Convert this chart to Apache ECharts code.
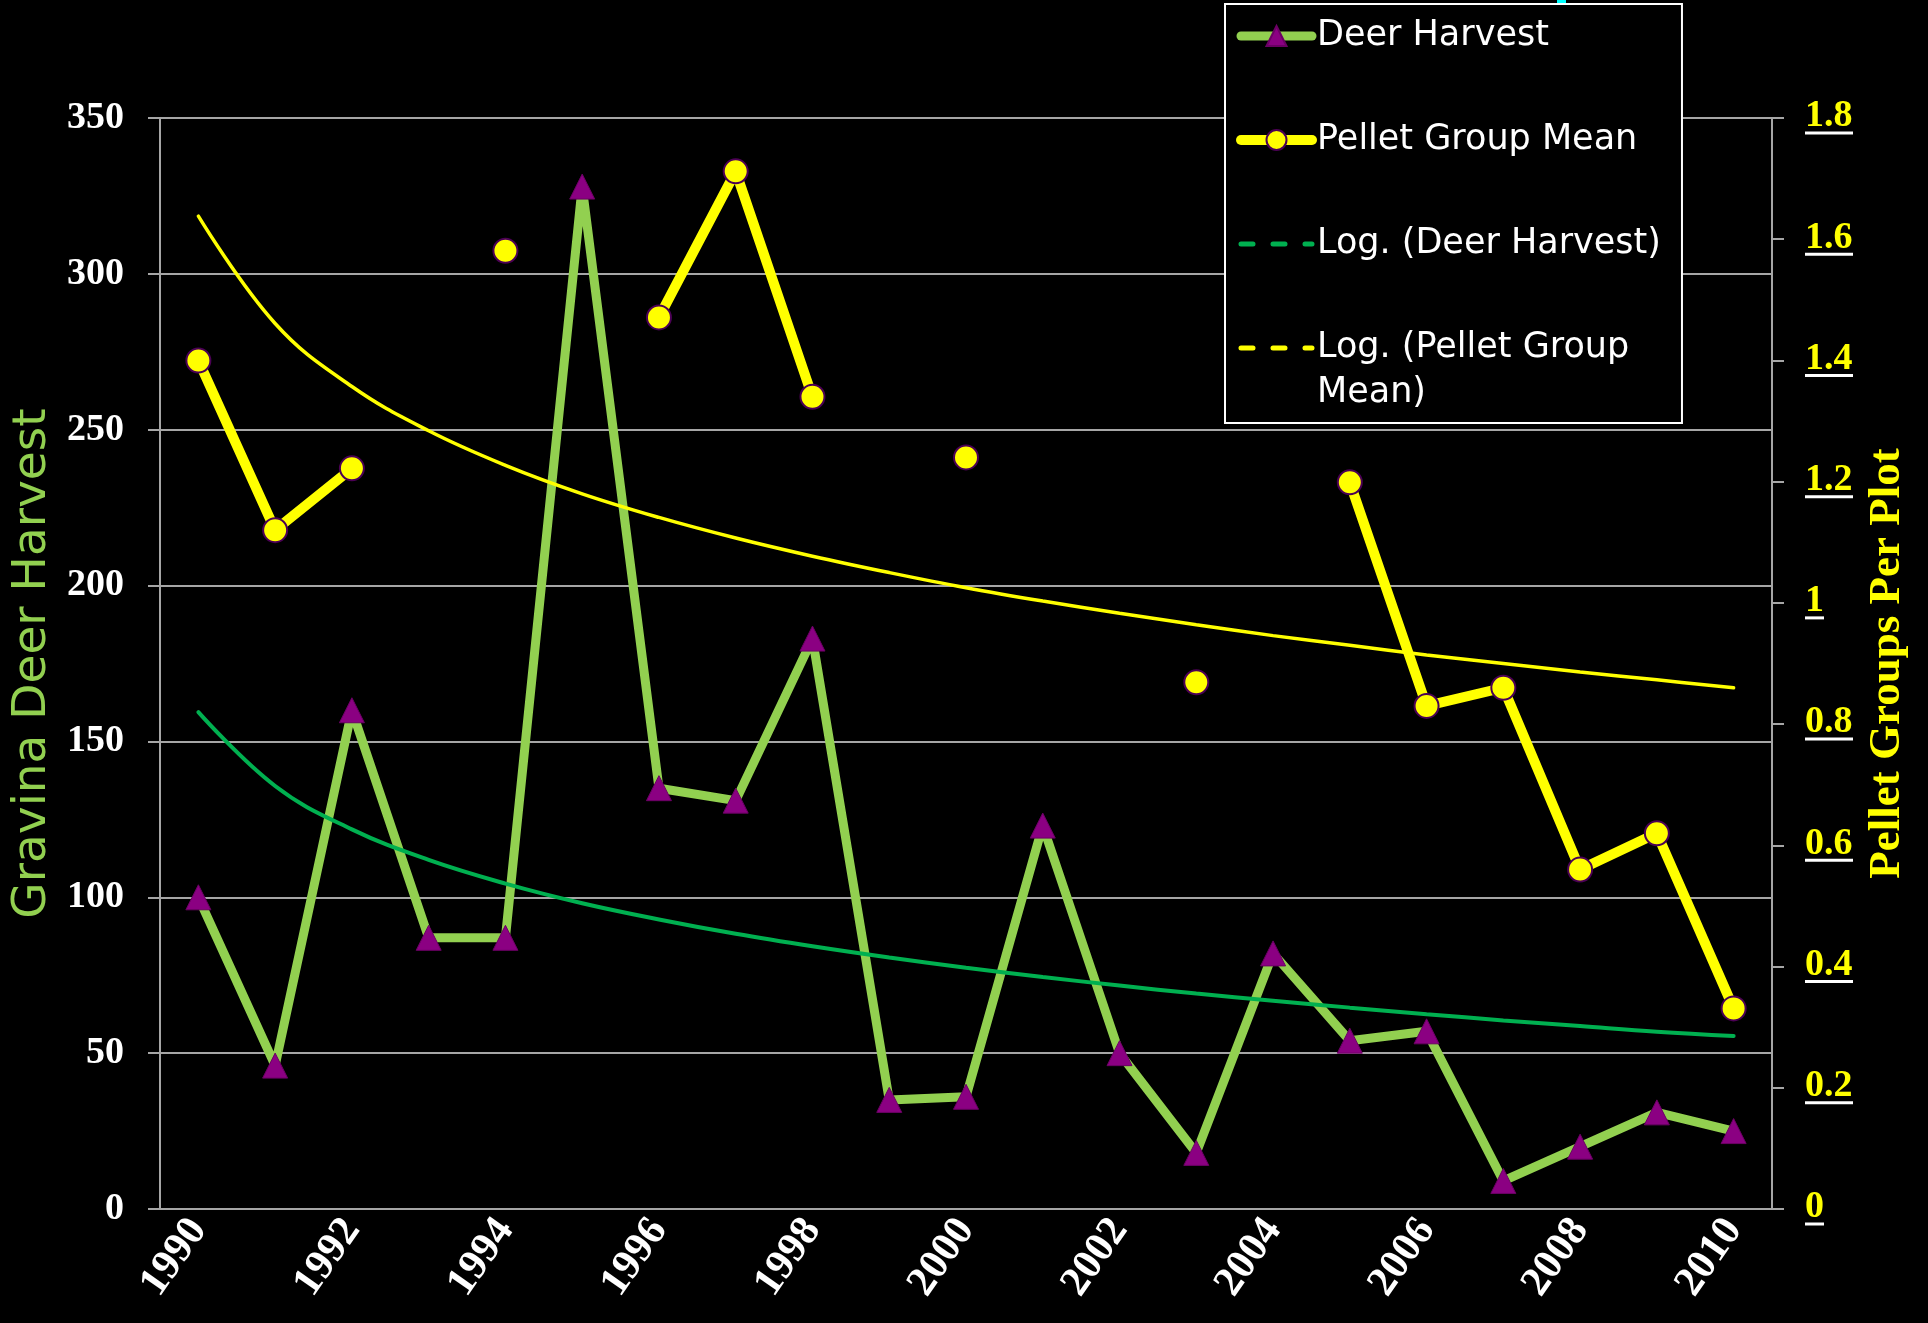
<!DOCTYPE html>
<html>
<head>
<meta charset="utf-8">
<title>Gravina Deer Harvest</title>
<script src="https://cdn.jsdelivr.net/npm/echarts@6/dist/echarts.min.js"></script>
<style>
html, body { margin: 0; padding: 0; background: #000; }
#myChart { width: 1928px; height: 1323px; }
</style>
</head>
<body>
<div id="myChart"></div>
<script>
// Datas
const years = ['1990', '1991', '1992', '1993', '1994', '1995', '1996', '1997', '1998', '1999', '2000',
  '2001', '2002', '2003', '2004', '2005', '2006', '2007', '2008', '2009', '2010']
const deerHarvest = [100, 46, 160, 87, 87, 328, 135, 131, 183, 35, 36, 123, 50, 18, 82, 54, 57, 9, 20, 31, 25]
const pelletGroupMean = [1.40, 1.12, 1.222, null, 1.581, null, 1.471, 1.712, 1.340, null, 1.240,
  null, null, 0.869, null, 1.199, 0.830, 0.860, 0.560, 0.620, 0.331]
// trend lines
const deerHarvestLog = [159.4, 135.7, 121.8, 112.0, 104.4, 98.1, 92.9, 88.3, 84.3, 80.7, 77.4,
  74.4, 71.7, 69.1, 66.8, 64.6, 62.5, 60.5, 58.7, 56.9, 55.5]
const pelletGroupLog = [1.638, 1.461, 1.357, 1.284, 1.227, 1.180, 1.141, 1.107, 1.077, 1.050, 1.025,
  1.003, 0.983, 0.964, 0.946, 0.930, 0.914, 0.900, 0.886, 0.873, 0.860]
const leftTicks = { min: 0, max: 350, interval: 50 }
const rightTicks = { min: 0, max: 1.8, interval: 0.2 }

const gray = '#A6A6A6'
const legendFont = 'DejaVu Sans'

const chart = echarts.init(document.getElementById('myChart'))
chart.setOption({
  animation: false,
  backgroundColor: '#000',
  grid: {
    left: 160,
    right: 156,
    top: 118,
    bottom: 114,
  },
  legend: {
    orient: 'vertical',
    left: 1225,
    top: 4,
    // bottom padding leaves room for the wrapped "Mean)" line
    padding: [9, 21, 52, 11],
    itemGap: 58,
    itemWidth: 71,
    itemHeight: 25,
    backgroundColor: '#000',
    borderColor: '#fff',
    borderWidth: 2,
    textStyle: {
      color: '#fff',
      fontFamily: legendFont,
      fontSize: 35,
      lineHeight: 46,
    },
    lineStyle: { width: 'inherit', cap: 'round' },
    data: [
      { name: 'Deer Harvest' },
      { name: 'Pellet Group Mean' },
      { name: 'Log. (Deer Harvest)', lineStyle: { type: [12, 20], width: 5 }, itemStyle: { opacity: 0 } },
      { name: 'Log. (Pellet Group Mean)', lineStyle: { type: [12, 20], width: 5 }, itemStyle: { opacity: 0 } },
    ],
    formatter: name => (name === 'Log. (Pellet Group Mean)' ? 'Log. (Pellet Group' : name),
  },
  xAxis: {
    type: 'category',
    data: years,
    boundaryGap: true,
    axisLine: { lineStyle: { color: gray, width: 2 } },
    axisTick: { show: false },
    axisLabel: {
      interval: 1,
      rotate: 55,
      margin: 14,
      color: '#fff',
      fontFamily: 'Liberation Serif',
      fontWeight: 'bold',
      fontSize: 42,
    },
  },
  yAxis: [{
    type: 'value',
    position: 'left',
    min: leftTicks.min,
    max: leftTicks.max,
    interval: leftTicks.interval,
    name: 'Gravina Deer Harvest',
    nameLocation: 'middle',
    nameRotate: 90,
    nameGap: 102,
    nameTextStyle: {
      color: '#92D050',
      fontFamily: 'DejaVu Sans',
      fontSize: 47,
    },
    axisLine: { show: true, lineStyle: { color: gray, width: 2 } },
    axisTick: { show: true, inside: false, length: 12, lineStyle: { color: gray, width: 2 } },
    axisLabel: {
      margin: 36,
      color: '#fff',
      fontFamily: 'Liberation Serif',
      fontWeight: 'bold',
      fontSize: 38,
    },
    splitLine: { show: true, lineStyle: { color: gray, width: 2 } },
  },
  {
    type: 'value',
    position: 'right',
    min: rightTicks.min,
    max: rightTicks.max,
    interval: rightTicks.interval,
    name: 'Pellet Groups Per Plot',
    nameLocation: 'middle',
    nameRotate: 90,
    nameGap: 93,
    nameTextStyle: {
      color: '#FFFF00',
      fontFamily: 'Liberation Serif',
      fontWeight: 'bold',
      fontSize: 45,
    },
    axisLine: { show: true, lineStyle: { color: gray, width: 2 } },
    axisTick: { show: true, inside: false, length: 12, lineStyle: { color: gray, width: 2 } },
    axisLabel: {
      margin: 33,
      formatter: (v) => {
        const t = String(parseFloat(v.toFixed(1)))
        return '{v|' + t + '}\n{' + (t.length > 1 ? 'u3' : 'u1') + '| }'
      },
      rich: {
        v: {
          color: '#FFFF00',
          fontFamily: 'Liberation Serif',
          fontWeight: 'bold',
          fontSize: 38,
          lineHeight: 30,
        },
        u3: { width: 48, height: 3, lineHeight: 3, fontSize: 3, backgroundColor: '#fff' },
        u1: { width: 19, height: 3, lineHeight: 3, fontSize: 3, backgroundColor: '#fff' },
      },
    },
    splitLine: { show: false },
  }],
  series: [{
    name: 'Deer Harvest',
    type: 'line',
    yAxisIndex: 0,
    data: deerHarvest,
    symbol: 'triangle',
    symbolSize: 25,
    showAllSymbol: true,
    lineStyle: { color: '#92D050', width: 9, cap: 'round', join: 'round' },
    itemStyle: { color: '#8B0082', borderColor: '#6B0064', borderWidth: 1 },
  },
  {
    name: 'Pellet Group Mean',
    type: 'line',
    yAxisIndex: 1,
    data: pelletGroupMean,
    connectNulls: false,
    symbol: 'circle',
    symbolSize: 24,
    showAllSymbol: true,
    lineStyle: { color: '#FFFF00', width: 10, cap: 'round', join: 'round' },
    itemStyle: { color: '#FFFF00', borderColor: '#4B0055', borderWidth: 2 },
  },
  {
    name: 'Log. (Deer Harvest)',
    type: 'line',
    yAxisIndex: 0,
    data: deerHarvestLog,
    smooth: 0.4,
    symbol: 'none',
    lineStyle: { color: '#00B050', width: 4, cap: 'round' },
    itemStyle: { color: '#00B050' },
  },
  {
    name: 'Log. (Pellet Group Mean)',
    type: 'line',
    yAxisIndex: 1,
    data: pelletGroupLog,
    smooth: 0.4,
    symbol: 'none',
    lineStyle: { color: '#FFFF00', width: 3.5, cap: 'round' },
    itemStyle: { color: '#FFFF00' },
  }],
  graphic: [{
    type: 'text',
    x: 1317,
    y: 393,
    z: 100,
    style: {
      text: 'Mean)',
      fill: '#fff',
      fontFamily: legendFont,
      fontSize: 35,
      verticalAlign: 'middle',
    },
  },
  {
    type: 'rect',
    shape: { x: 1557, y: 0, width: 9, height: 4 },
    style: { fill: '#00FFFF' },
  }],
})
</script>
</body>
</html>
